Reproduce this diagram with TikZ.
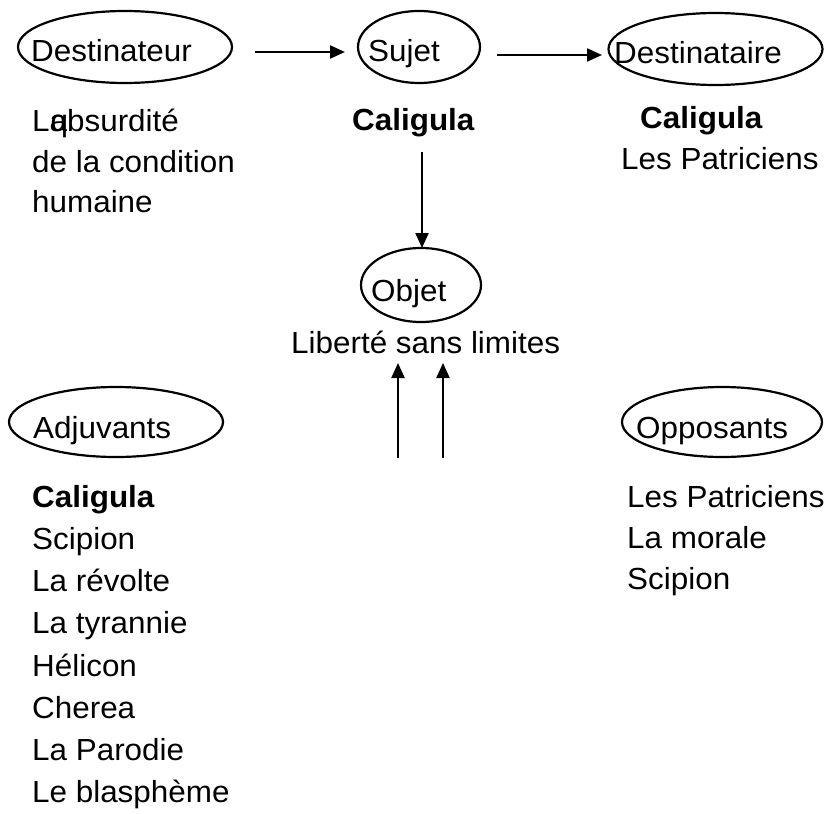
\documentclass[tikz,border=0pt]{standalone}
\usepackage{fontspec}
\setmainfont{Liberation Sans}[FakeStretch=1.03]
\usetikzlibrary{shapes.geometric,arrows.meta}
\tikzset{
  oval/.style={ellipse, draw, line width=2.2pt, inner sep=0pt},
  txt/.style={anchor=base west, inner sep=0pt, font=\fontsize{30.5}{40}\selectfont},
  btxt/.style={txt, font=\fontsize{30.5}{40}\selectfont\bfseries},
  conn/.style={line width=2.2pt, -{Triangle[length=15pt,width=13pt]}}
}
\begin{document}
\begin{tikzpicture}[x=1pt,y=-1pt]
\path[fill=white] (0,0) rectangle (829,813);
\useasboundingbox (0,0) rectangle (829,813);
% ellipses
\node[oval, minimum width=214pt, minimum height=72pt] (dest) at (125,47) {};
\node[oval, minimum width=122pt, minimum height=72pt] (suj) at (419,47) {};
\node[oval, minimum width=214pt, minimum height=72pt] (destre) at (715.5,49) {};
\node[oval, minimum width=120pt, minimum height=74pt] (obj) at (421,285) {};
\node[oval, minimum width=214pt, minimum height=70pt] (adj) at (116,422) {};
\node[oval, minimum width=200pt, minimum height=70pt] (opp) at (722,422) {};
% ellipse labels
\node[txt] (tdest) at (31,62) {Destinateur};
\node[txt] (tsuj) at (368,62) {Sujet};
\node[txt] (tdestre) at (614,64) {Destinataire};
\node[txt] (tobj) at (371,301) {Objet};
\node[txt] (tadj) at (33,438) {Adjuvants};
\node[txt] (topp) at (636,438) {Opposants};
% texts
\node[txt] (l1) at (32,132) {L\makebox[0pt][l]{\kern1pt q}absurdité};
\node[txt] (l2) at (32,172) {de la condition};
\node[txt] (l3) at (32,212) {humaine};
\node[btxt] (cal) at (352,131) {Caligula};
\node[btxt] (cal2) at (640,129) {Caligula};
\node[txt] (pat) at (621,170) {Les Patriciens};
\node[txt] (lib) at (291,353) {Liberté sans limites};
% adjuvants list
\node[btxt] (a1) at (32,507) {Caligula};
\node[txt] (a2) at (32,549) {Scipion};
\node[txt] (a3) at (32,591) {La révolte};
\node[txt] (a4) at (32,633) {La tyrannie};
\node[txt] (a5) at (32,676) {Hélicon};
\node[txt] (a6) at (32,718) {Cherea};
\node[txt] (a7) at (32,760) {La Parodie};
\node[txt] (a8) at (32,802) {Le blasphème};
% opposants list
\node[txt] (o1) at (627,507) {Les Patriciens};
\node[txt] (o2) at (627,548) {La morale};
\node[txt] (o3) at (627,589) {Scipion};
% connector ends
\coordinate (c1s) at (255,52);
\coordinate (c1e) at (345,52);
\coordinate (c2s) at (497,55);
\coordinate (c2e) at (602,55);
\coordinate (c3s) at (422,152);
\coordinate (c3e) at (422,248);
\coordinate (u1s) at (398,458);
\coordinate (u1e) at (398,363);
\coordinate (u2s) at (443,458);
\coordinate (u2e) at (443,363);
\draw[conn] (c1s) -- (c1e);
\draw[conn] (c2s) -- (c2e);
\draw[conn] (c3s) -- (c3e);
\draw[conn] (u1s) -- (u1e);
\draw[conn] (u2s) -- (u2e);
\end{tikzpicture}
\end{document}
